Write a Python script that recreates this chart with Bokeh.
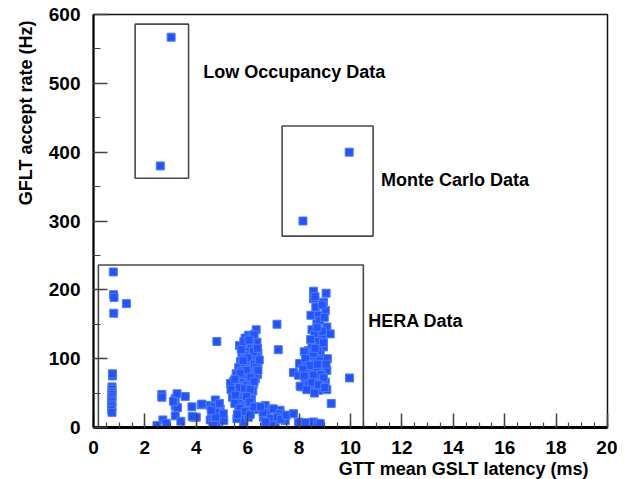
import numpy as np
from bokeh.plotting import figure
from bokeh.models import Range1d, Label, FixedTicker, Title
from bokeh.embed import file_html
from bokeh.resources import INLINE

# ---------------- data ----------------
low_x = [3.02, 2.60]
low_y = [567, 380]

mc_x = [9.95, 8.15]
mc_y = [400, 300]

# HERA data: left column near 0.7 ms
hera_a_x = [0.77, 0.78, 0.80, 1.28, 0.79, 0.74, 0.74, 0.72, 0.72, 0.72, 0.72, 0.72, 0.70, 0.72, 0.70, 0.72, 0.70, 0.72]
hera_a_y = [226, 193, 189, 180, 166, 75, 78, 59, 56, 51, 48, 44, 40, 37, 33, 30, 26, 22]

# 2.5 - 4.2 ms group
hera_b_x = [2.66, 2.66, 3.18, 3.25, 3.57, 3.18, 3.27, 3.83, 4.19, 3.18, 3.89, 3.40, 2.70, 2.83, 2.47, 4.00, 3.11, 3.84]
hera_b_y = [48, 44, 42, 49, 45, 31, 29, 30, 33, 17, 15, 9, 11, 6, 3, 15, 38, 16]

# 4.2 - 5.1 ms group
hera_c_x = [4.74, 4.54, 4.93, 4.61, 5.00, 4.54, 4.80, 5.07, 4.22, 4.70, 4.85, 4.65, 4.90, 5.05, 4.75, 4.58, 4.80, 4.68]
hera_c_y = [40, 32, 27, 20, 15, 11, 5, 10, 34, 30, 22, 8, 35, 20, 15, 25, 125, 3]

# main column 5.3 - 6.5 ms
hera_d_x = [6.33, 6.03, 5.90, 6.20, 6.36, 5.68, 6.10,
            5.95, 6.15, 6.30, 5.85, 6.05, 6.40,
            5.78, 5.98, 6.18, 6.35, 5.88, 6.10, 6.28,
            5.72, 5.92, 6.12, 6.40, 5.80, 6.02, 6.22,
            5.65, 5.88, 6.08, 6.30, 5.75, 5.98, 6.18,
            5.55, 5.78, 6.00, 6.20, 6.38, 5.68, 5.90, 6.10, 6.30,
            5.45, 5.62, 5.82, 6.02, 6.22, 5.38, 5.55, 5.75, 5.95, 6.15,
            5.42, 5.60, 5.80, 6.00, 6.20, 5.50, 5.70, 5.90, 6.10,
            5.45, 5.65, 5.85, 6.05, 5.55, 5.75, 5.95, 6.15,
            5.60, 5.80, 6.00, 5.70, 5.90, 6.10,
            5.65, 5.85, 6.05, 6.29, 5.75, 5.95, 5.71, 5.84, 6.03, 5.33, 5.41, 5.58,
            5.85, 6.25, 6.05, 5.75, 6.22, 6.00, 5.82, 6.25, 6.35, 5.95,
            5.70, 6.12, 6.25, 5.50, 5.68, 5.88, 6.10, 5.35, 5.52, 5.95,
            6.08, 5.50, 5.70, 5.90, 6.10, 5.60, 6.25, 6.40, 6.45, 6.38]
hera_d_y = [142, 134, 130, 128, 124, 119, 121,
            117, 115, 113, 111, 110, 108,
            106, 105, 104, 102, 100, 99, 98,
            96, 95, 94, 93, 91, 90, 89,
            87, 86, 85, 84, 82, 81, 80,
            78, 77, 76, 75, 77, 72, 71, 70, 71,
            67, 66, 65, 64, 63, 62, 61, 60, 61, 59,
            57, 55, 54, 56, 53, 51, 50, 49, 50,
            46, 45, 44, 43, 41, 40, 39, 41,
            36, 35, 34, 31, 30, 32,
            27, 26, 25, 26, 22, 20, 13, 8, 15, 64, 44, 13,
            125, 135, 127, 113, 110, 101, 97, 92, 88, 83,
            79, 73, 67, 70, 58, 57, 55, 55, 47, 45,
            37, 35, 28, 23, 19, 19, 30, 83, 98, 115]

# 6.5 - 8.8 ms low-rate group
hera_e_x = [6.68, 6.94, 6.61, 6.88, 7.07, 7.26, 6.75, 7.00, 7.26, 6.88, 7.46, 6.94, 6.60, 7.15, 6.70, 6.50,
            7.30, 7.50, 7.78, 7.98, 8.24, 8.56, 8.72, 8.82, 7.14, 7.19]
hera_e_y = [32, 27, 15, 10, 5, 25, 20, 27, 20, 13, 10, 3, 22, 15, 8, 30,
            12, 18, 20, 8, 7, 8, 5, 6, 150, 113]

# 7.8 - 10 ms group
hera_f_x = [8.56, 8.56, 9.05, 8.95, 9.02, 8.46, 8.75, 8.69, 9.08, 8.50, 9.21, 8.89, 8.56, 8.95, 8.37, 8.82,
            8.02, 7.78, 7.98, 8.30, 8.56, 8.95, 9.08, 8.43, 8.82, 8.24, 9.02, 8.11, 8.43, 8.75, 9.08,
            8.65, 8.80, 8.60, 8.75, 8.50, 8.65, 8.40, 8.80, 8.50, 8.70, 8.30, 8.60, 8.90, 8.35, 8.85,
            9.10, 8.20, 8.90, 8.72, 8.55, 8.04, 9.96, 9.25,
            8.62, 8.90, 8.98, 8.70, 8.45, 8.95, 8.62, 8.25, 8.40, 8.72,
            9.05, 8.15, 8.55, 8.95, 8.20, 8.50, 8.75, 9.00, 8.30, 8.60]
hera_f_y = [198, 187, 195, 182, 170, 163, 163, 151, 146, 142, 136, 131, 122, 117, 112, 107,
            93, 80, 76, 95, 88, 90, 83, 73, 71, 68, 66, 59, 56, 54, 55,
            175, 155, 135, 125, 118, 100, 104, 97, 84, 80, 82, 64, 60, 62, 77,
            100, 110, 140, 112, 108, 60, 72, 35,
            190, 178, 160, 145, 128, 123, 115, 100, 90, 92,
            92, 85, 76, 72, 75, 65, 62, 58, 55, 50]

hera_x = hera_a_x + hera_b_x + hera_c_x + hera_d_x + hera_e_x + hera_f_x
hera_y = hera_a_y + hera_b_y + hera_c_y + hera_d_y + hera_e_y + hera_f_y

# boxes: (x0, x1, y0, y1)
box_left = [1.62, 7.34, 0.19]
box_right = [3.70, 10.88, 10.50]
box_bottom = [362, 278, 0]
box_top = [586, 438, 236]

box_text = ["Low Occupancy Data", "Monte Carlo Data", "HERA Data"]
box_text_x = [4.27, 11.19, 10.69]
box_text_y = [516, 359, 154]

x_label = "GTT mean GSLT latency (ms)"
y_label = "GFLT accept rate (Hz)"
x_ticks = [0, 2, 4, 6, 8, 10, 12, 14, 16, 18, 20]
y_ticks = [0, 100, 200, 300, 400, 500, 600]

# ---------------- figure ----------------
FONT = "Liberation Sans"

p = figure(width=617, height=479, output_backend="svg", toolbar_location=None,
           x_range=Range1d(0, 20), y_range=Range1d(0, 600),
           min_border_left=93, min_border_right=10, min_border_top=14, min_border_bottom=52)
p.background_fill_color = "white"
p.border_fill_color = "white"
p.outline_line_color = "#111111"
p.outline_line_width = 1.5
p.xgrid.visible = False
p.ygrid.visible = False

p.xaxis.ticker = FixedTicker(ticks=x_ticks, minor_ticks=[i * 0.5 for i in range(41)])
p.yaxis.ticker = FixedTicker(ticks=y_ticks, minor_ticks=[i * 50 for i in range(13)])

for ax in (p.xaxis[0], p.yaxis[0]):
    ax.major_tick_in = 14
    ax.major_tick_out = 0
    ax.minor_tick_in = 7
    ax.minor_tick_out = 0
    ax.major_tick_line_color = "#444444"
    ax.minor_tick_line_color = "#444444"
    ax.major_tick_line_width = 1.5
    ax.minor_tick_line_width = 1.2
    ax.axis_line_color = "black"
    ax.major_label_text_font = FONT
    ax.major_label_text_font_style = "bold"
    ax.major_label_text_font_size = "19px"
    ax.major_label_text_color = "black"

p.xaxis.axis_line_width = 3
p.yaxis.axis_line_width = 2
p.xaxis.major_label_standoff = 13
p.yaxis.major_label_standoff = 13
p.xaxis.minor_tick_in = 5

# axis titles as side titles (aligned toward the axis ends)
p.add_layout(Title(text=x_label, align="right", offset=19, standoff=0,
                   text_font=FONT, text_font_style="bold", text_font_size="18px",
                   text_color="black"), "below")
p.add_layout(Title(text=y_label, align="right", offset=6, standoff=19,
                   text_font=FONT, text_font_style="bold", text_font_size="18px",
                   text_color="black"), "left")

# boxes
p.quad(left=box_left, right=box_right, bottom=box_bottom, top=box_top,
       fill_color=None, line_color="#4a4a4a", line_width=1.6)

# points
p.scatter(hera_x, hera_y, marker="square", size=8, fill_color="#2255ff",
          line_color="#4f7bff", line_width=1)
p.scatter(low_x, low_y, marker="square", size=8, fill_color="#2255ff",
          line_color="#4f7bff", line_width=1)
p.scatter(mc_x, mc_y, marker="square", size=8, fill_color="#2255ff",
          line_color="#4f7bff", line_width=1)

for t, x, y in zip(box_text, box_text_x, box_text_y):
    p.add_layout(Label(x=x, y=y, text=t, text_font=FONT, text_font_style="bold",
                       text_font_size="18px", text_align="left", text_baseline="middle",
                       text_color="black"))

open("out.html", "w").write(file_html(p, INLINE))
